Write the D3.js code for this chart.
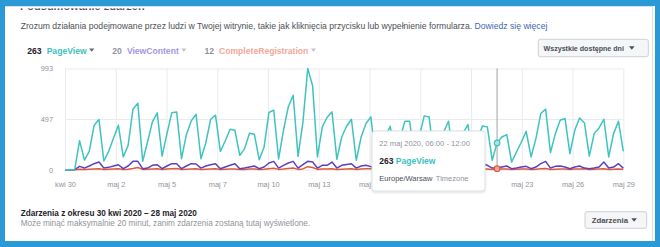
<!DOCTYPE html>
<html>
<head>
<meta charset="UTF-8">
<script src="https://d3js.org/d3.v7.min.js"></script>
<style>
  html, body { margin: 0; padding: 0; background: #2a99d6; }
  svg { display: block; font-family: "Liberation Sans", Arial, Helvetica, sans-serif; }
  .grid line { stroke: #e9ebee; }
  .grid .domain { display: none; }
  .axis text { fill: #90949c; }
</style>
</head>
<body>
<svg id="chart"></svg>
<script>
// x axis tick labels (12 evenly spaced ticks)
const dayLabels = ['kwi 30', 'maj 2', 'maj 5', 'maj 7', 'maj 10', 'maj 13', 'maj 15',
  'maj 18', 'maj 21', 'maj 23', 'maj 26', 'maj 29']
const yTicks = [0, 497, 993]

const seriesNames = ['PageView', 'ViewContent', 'CompleteRegistration']
const seriesTotals = [263, 20, 12]

// 6-hour buckets, one row per day
const pageView = [
  0, 0, 0, 285,
  95, 180, 436, 492,
  85, 180, 312, 436,
  125, 239, 594, 653,
  82, 272, 469, 558,
  134, 354, 558, 567,
  108, 344, 479, 544,
  108, 262, 495, 535,
  180, 282, 397, 387,
  141, 207, 358, 348,
  98, 220, 561, 584,
  105, 387, 617, 731,
  131, 462, 993, 823,
  125, 420, 515, 567,
  102, 321, 426, 495,
  92, 321, 453, 518,
  105, 250, 330, 426,
  110, 300, 476, 476,
  95, 330, 528, 518,
  120, 290, 370, 476,
  100, 280, 360, 443,
  110, 300, 430, 420,
  92, 263, 321, 344,
  75, 174, 272, 377,
  125, 305, 551, 594,
  167, 354, 485, 502,
  157, 387, 508, 459,
  134, 354, 410, 495,
  125, 354, 476, 180
]

const viewContent = [
  0, 0, 0, 33,
  16, 36, 59, 75,
  16, 23, 36, 49,
  10, 36, 82, 82,
  10, 16, 43, 49,
  10, 36, 59, 59,
  10, 36, 59, 56,
  16, 36, 49, 59,
  10, 26, 43, 59,
  10, 16, 26, 36,
  10, 26, 66, 82,
  16, 43, 66, 82,
  16, 49, 82, 75,
  16, 43, 43, 75,
  16, 43, 52, 59,
  16, 36, 43, 30,
  12, 30, 45, 55,
  10, 28, 50, 62,
  12, 35, 55, 60,
  10, 25, 40, 50,
  12, 30, 42, 48,
  12, 30, 59, 43,
  16, 16, 26, 36,
  10, 16, 26, 33,
  10, 26, 59, 82,
  16, 33, 36, 26,
  10, 26, 36, 16,
  10, 16, 26, 75,
  16, 26, 59, 16
]

const completeRegistration = [
  0, 0, 0, 4,
  2, 5, 8, 10,
  2, 4, 6, 9,
  2, 5, 12, 22,
  3, 5, 8, 10,
  2, 6, 9, 11,
  3, 5, 8, 9,
  2, 5, 8, 9,
  2, 4, 7, 8,
  2, 3, 6, 7,
  2, 4, 10, 14,
  3, 6, 12, 16,
  3, 8, 30, 22,
  3, 6, 8, 10,
  2, 5, 8, 9,
  2, 6, 9, 10,
  3, 5, 7, 8,
  2, 5, 8, 9,
  3, 6, 9, 10,
  2, 5, 7, 8,
  3, 5, 6, 7,
  2, 5, 7, 8,
  3, 10, 6, 8,
  2, 4, 6, 7,
  2, 5, 9, 12,
  2, 5, 7, 8,
  2, 6, 8, 9,
  3, 4, 6, 9,
  2, 5, 8, 4
]

const hoverIndex = 89

const width = 660
const height = 247
const plot = { left: 65, right: 623.3, top: 68.5, bottom: 169.7 }

const lineColors = ['#3fc3c0', '#5b40c2', '#dd5a3c']
const legendColors = ['#3cc0c0', '#a397e0', '#f0a898']

const svg = d3.select('#chart').attr('width', width).attr('height', height)

// panel
svg.append('rect').attr('width', width).attr('height', height).attr('fill', '#2a99d6')
svg.append('rect').attr('x', 5).attr('y', 6).attr('width', 650).attr('height', 235).attr('fill', '#fff')
svg.append('line').attr('x1', 652.5).attr('x2', 652.5).attr('y1', 6).attr('y2', 241).attr('stroke', '#dadde1')

// heading, mostly scrolled out of view: draw it, then cover its top
svg.append('text')
  .attr('x', 20).attr('y', 10.4)
  .attr('font-size', 11).attr('font-weight', 'bold').attr('fill', '#4b4f56')
  .text('Podsumowanie zdarzeń')
svg.append('rect').attr('x', 5).attr('y', 0).attr('width', 647).attr('height', 8.4).attr('fill', '#fff')
svg.append('rect').attr('x', 0).attr('y', 0).attr('width', width).attr('height', 6).attr('fill', '#2a99d6')
svg.append('line').attr('x1', 5).attr('x2', 653).attr('y1', 6.6).attr('y2', 6.6).attr('stroke', '#dadde1')

// description
const desc = svg.append('text').attr('x', 20.7).attr('y', 29).attr('font-size', 8.65)
desc.append('tspan').attr('fill', '#4b4f56')
  .text('Zrozum działania podejmowane przez ludzi w Twojej witrynie, takie jak kliknięcia przycisku lub wypełnienie formularza. ')
desc.append('tspan').attr('fill', '#4267b2').text('Dowiedz się więcej')

// legend
const legend = svg.append('g').attr('font-size', 8.6).attr('font-weight', 'bold')
let lx = 27.3
seriesNames.forEach((name, i) => {
  let num = legend.append('text').attr('x', lx).attr('y', 53.8)
    .attr('fill', i === 0 ? '#1d2129' : '#90949c').text(seriesTotals[i])
  lx += num.node().getComputedTextLength() + 5
  let lab = legend.append('text').attr('x', lx).attr('y', 53.8)
    .attr('fill', legendColors[i]).text(name)
  lx += lab.node().getComputedTextLength() + 2.5
  legend.append('path')
    .attr('d', `M${lx},48.6h5.2l-2.6,3.2z`)
    .attr('fill', i === 0 ? '#606770' : '#bec3c9')
  lx += 5.2 + 18
})

// range button
svg.append('rect').attr('x', 538.3).attr('y', 39.3).attr('width', 110).attr('height', 17.4)
  .attr('rx', 2).attr('fill', '#f5f6f7').attr('stroke', '#ccd0d5')
svg.append('text').attr('x', 543.5).attr('y', 50.6).attr('font-size', 7.1).attr('font-weight', 'bold')
  .attr('fill', '#4b4f56').text('Wszystkie dostępne dni')
svg.append('path').attr('d', 'M629,46.3h5.6l-2.8,3.4z').attr('fill', '#4b4f56')

// axes + grid
const x = d3.scaleLinear().domain([0, pageView.length - 1]).range([plot.left, plot.right])
const y = d3.scaleLinear().domain([0, d3.max(yTicks)]).range([plot.bottom, plot.top])

svg.append('g')
  .attr('class', 'grid axis')
  .attr('transform', `translate(${plot.left},0)`)
  .call(d3.axisLeft(y)
    .tickValues(yTicks)
    .tickSize(-(plot.right - plot.left))
    .tickPadding(12)
    .tickFormat(d3.format('d')))
  .call(g => g.attr('font-size', 7.4).attr('font-family', null))

const xTickValues = dayLabels.map((d, k) => k * (pageView.length - 1) / (dayLabels.length - 1))
svg.append('g')
  .attr('class', 'grid axis')
  .attr('transform', `translate(0,${plot.bottom})`)
  .call(d3.axisBottom(x)
    .tickValues(xTickValues)
    .tickSize(-(plot.bottom - plot.top))
    .tickPadding(12.5)
    .tickFormat((d, k) => dayLabels[k]))
  .call(g => g.attr('font-size', 7.4).attr('font-family', null))

// lines
const line = d3.line().x((d, i) => x(i)).y(d => y(d))
const series = [pageView, viewContent, completeRegistration]
;[2, 1, 0].forEach(k => {
  svg.append('path')
    .datum(series[k])
    .attr('d', line)
    .attr('fill', 'none')
    .attr('stroke', lineColors[k])
    .attr('stroke-width', 1.5)
    .attr('stroke-linejoin', 'round')
})

// hover cursor
svg.append('line')
  .attr('x1', x(hoverIndex)).attr('x2', x(hoverIndex))
  .attr('y1', plot.top).attr('y2', plot.bottom + 1)
  .attr('stroke', '#9da1a8').attr('stroke-width', 1)
svg.append('circle')
  .attr('cx', x(hoverIndex)).attr('cy', y(pageView[hoverIndex])).attr('r', 2.8)
  .attr('fill', '#a9e7e5').attr('stroke', lineColors[0]).attr('stroke-width', 1.2)
svg.append('circle')
  .attr('cx', x(hoverIndex)).attr('cy', y(completeRegistration[hoverIndex])).attr('r', 2.8)
  .attr('fill', '#f2a897').attr('stroke', lineColors[2]).attr('stroke-width', 1.2)

// tooltip
const defs = svg.append('defs')
const f = defs.append('filter').attr('id', 'shadow').attr('x', '-20%').attr('y', '-20%')
  .attr('width', '140%').attr('height', '150%')
f.append('feDropShadow').attr('dx', 0).attr('dy', 1).attr('stdDeviation', 1.2)
  .attr('flood-color', '#000').attr('flood-opacity', 0.15)

const tip = svg.append('g').attr('transform', 'translate(372,131)')
tip.append('rect').attr('width', 113).attr('height', 60).attr('rx', 3)
  .attr('fill', '#fff').attr('stroke', '#dddfe2').attr('filter', 'url(#shadow)')
tip.append('text').attr('x', 7.3).attr('y', 14.5).attr('font-size', 7.6).attr('fill', '#90949c')
  .text('22 maj 2020, 06:00 - 12:00')
const tv = tip.append('text').attr('x', 7.3).attr('y', 32.7).attr('font-size', 8.5).attr('font-weight', 'bold')
tv.append('tspan').attr('fill', '#1d2129').text(pageView[hoverIndex] + ' ')
tv.append('tspan').attr('fill', legendColors[0]).text(seriesNames[0])
const tz = tip.append('text').attr('x', 7.3).attr('y', 49.8).attr('font-size', 7.5)
tz.append('tspan').attr('fill', '#4b4f56').text('Europe/Warsaw ')
tz.append('tspan').attr('fill', '#90949c').attr('dx', 1.5).text('Timezone')

// footer
svg.append('text').attr('x', 20.7).attr('y', 216.3).attr('font-size', 8.2).attr('font-weight', 'bold')
  .attr('fill', '#1d2129').text('Zdarzenia z okresu 30 kwi 2020 – 28 maj 2020')
svg.append('text').attr('x', 20.7).attr('y', 226.2).attr('font-size', 8.2)
  .attr('fill', '#90949c').text('Może minąć maksymalnie 20 minut, zanim zdarzenia zostaną tutaj wyświetlone.')

svg.append('rect').attr('x', 585).attr('y', 211.7).attr('width', 61.7).attr('height', 16.6)
  .attr('rx', 2).attr('fill', '#f5f6f7').attr('stroke', '#ccd0d5')
svg.append('text').attr('x', 591.7).attr('y', 222.8).attr('font-size', 7.8).attr('font-weight', 'bold')
  .attr('fill', '#4b4f56').text('Zdarzenia')
svg.append('path').attr('d', 'M631.3,218.3h5.6l-2.8,3.4z').attr('fill', '#4b4f56')
</script>
</body>
</html>
